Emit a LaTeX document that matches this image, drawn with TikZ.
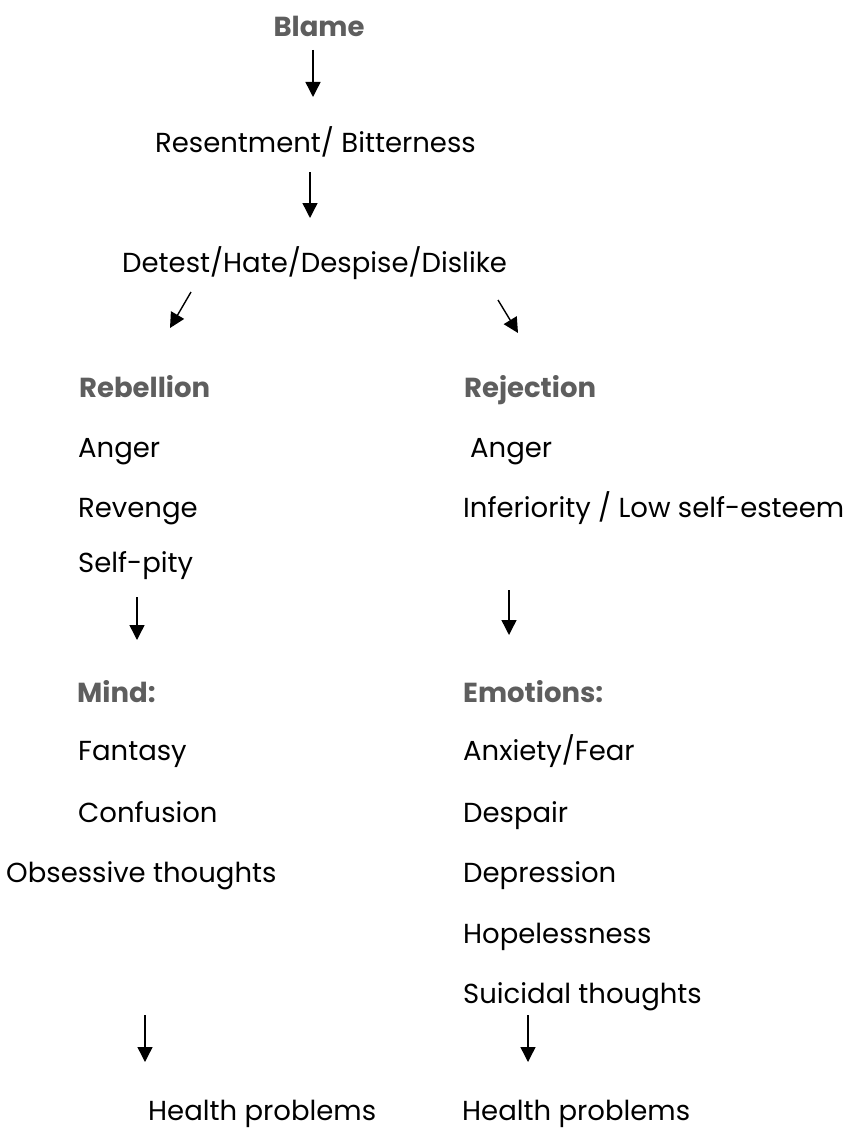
\documentclass[tikz,border=0pt]{standalone}
\usepackage{fontspec}
\setmainfont{Poppins}
\usetikzlibrary{arrows.meta}
\definecolor{headgray}{HTML}{5E5E5E}
\tikzset{
  txt/.style={anchor=base west, inner sep=0pt, font=\fontsize{27.5}{32}\selectfont},
  head/.style={txt, font=\fontsize{27.5}{32}\selectfont\bfseries, text=headgray},
  arr/.style={-{Triangle[length=15pt,width=15pt]}, line width=1.4pt}
}
\begin{document}
\begin{tikzpicture}[x=1pt,y=-1pt]
  \useasboundingbox (0,0) rectangle (850,1129);
  % top chain
  \node[head, anchor=base] (blame) at (319,37) {Blame};
  \node[txt] (resent) at (155,152) {Resentment/ Bitterness};
  \node[txt] (detest) at (122,272) {Detest/Hate/Despise/Dislike};
  % left column
  \node[head] (rebel) at (79,397) {Rebellion};
  \node[txt] (angerl) at (78,457) {Anger};
  \node[txt] (revenge) at (78,517) {Revenge};
  \node[txt] (pity) at (78,572) {Self-pity};
  \node[head] (mind) at (77,702) {Mind:};
  \node[txt] (fantasy) at (78,760) {Fantasy};
  \node[txt] (confus) at (78,822) {Confusion};
  \node[txt] (obsess) at (6,882) {Obsessive thoughts};
  \node[txt] (healthl) at (148,1120) {Health problems};
  % right column
  \node[head] (reject) at (464,397) {Rejection};
  \node[txt] (angerr) at (470,457) {Anger};
  \node[txt] (inferior) at (463,517) {Inferiority / Low self-esteem};
  \node[head] (emotion) at (463,702) {Emotions:};
  \node[txt] (anxiety) at (463,760) {Anxiety/Fear};
  \node[txt] (despair) at (463,822) {Despair};
  \node[txt] (depress) at (463,882) {Depression};
  \node[txt] (hopeless) at (463,943) {Hopelessness};
  \node[txt] (suicide) at (463,1003) {Suicidal thoughts};
  \node[txt] (healthr) at (462,1120) {Health problems};
  % arrow ends
  \coordinate (a1) at (313,50);  \coordinate (b1) at (313,97);
  \coordinate (a2) at (310,172); \coordinate (b2) at (310,218);
  \coordinate (a3) at (191,292); \coordinate (b3) at (170,328);
  \coordinate (a4) at (498,300); \coordinate (b4) at (518,333);
  \coordinate (a5) at (137,597); \coordinate (b5) at (137,640);
  \coordinate (a6) at (509,590); \coordinate (b6) at (509,635);
  \coordinate (a7) at (145,1015); \coordinate (b7) at (145,1062);
  \coordinate (a8) at (528,1015); \coordinate (b8) at (528,1062);
  \foreach \i in {1,...,8} \draw[arr] (a\i) -- (b\i);
\end{tikzpicture}
\end{document}
